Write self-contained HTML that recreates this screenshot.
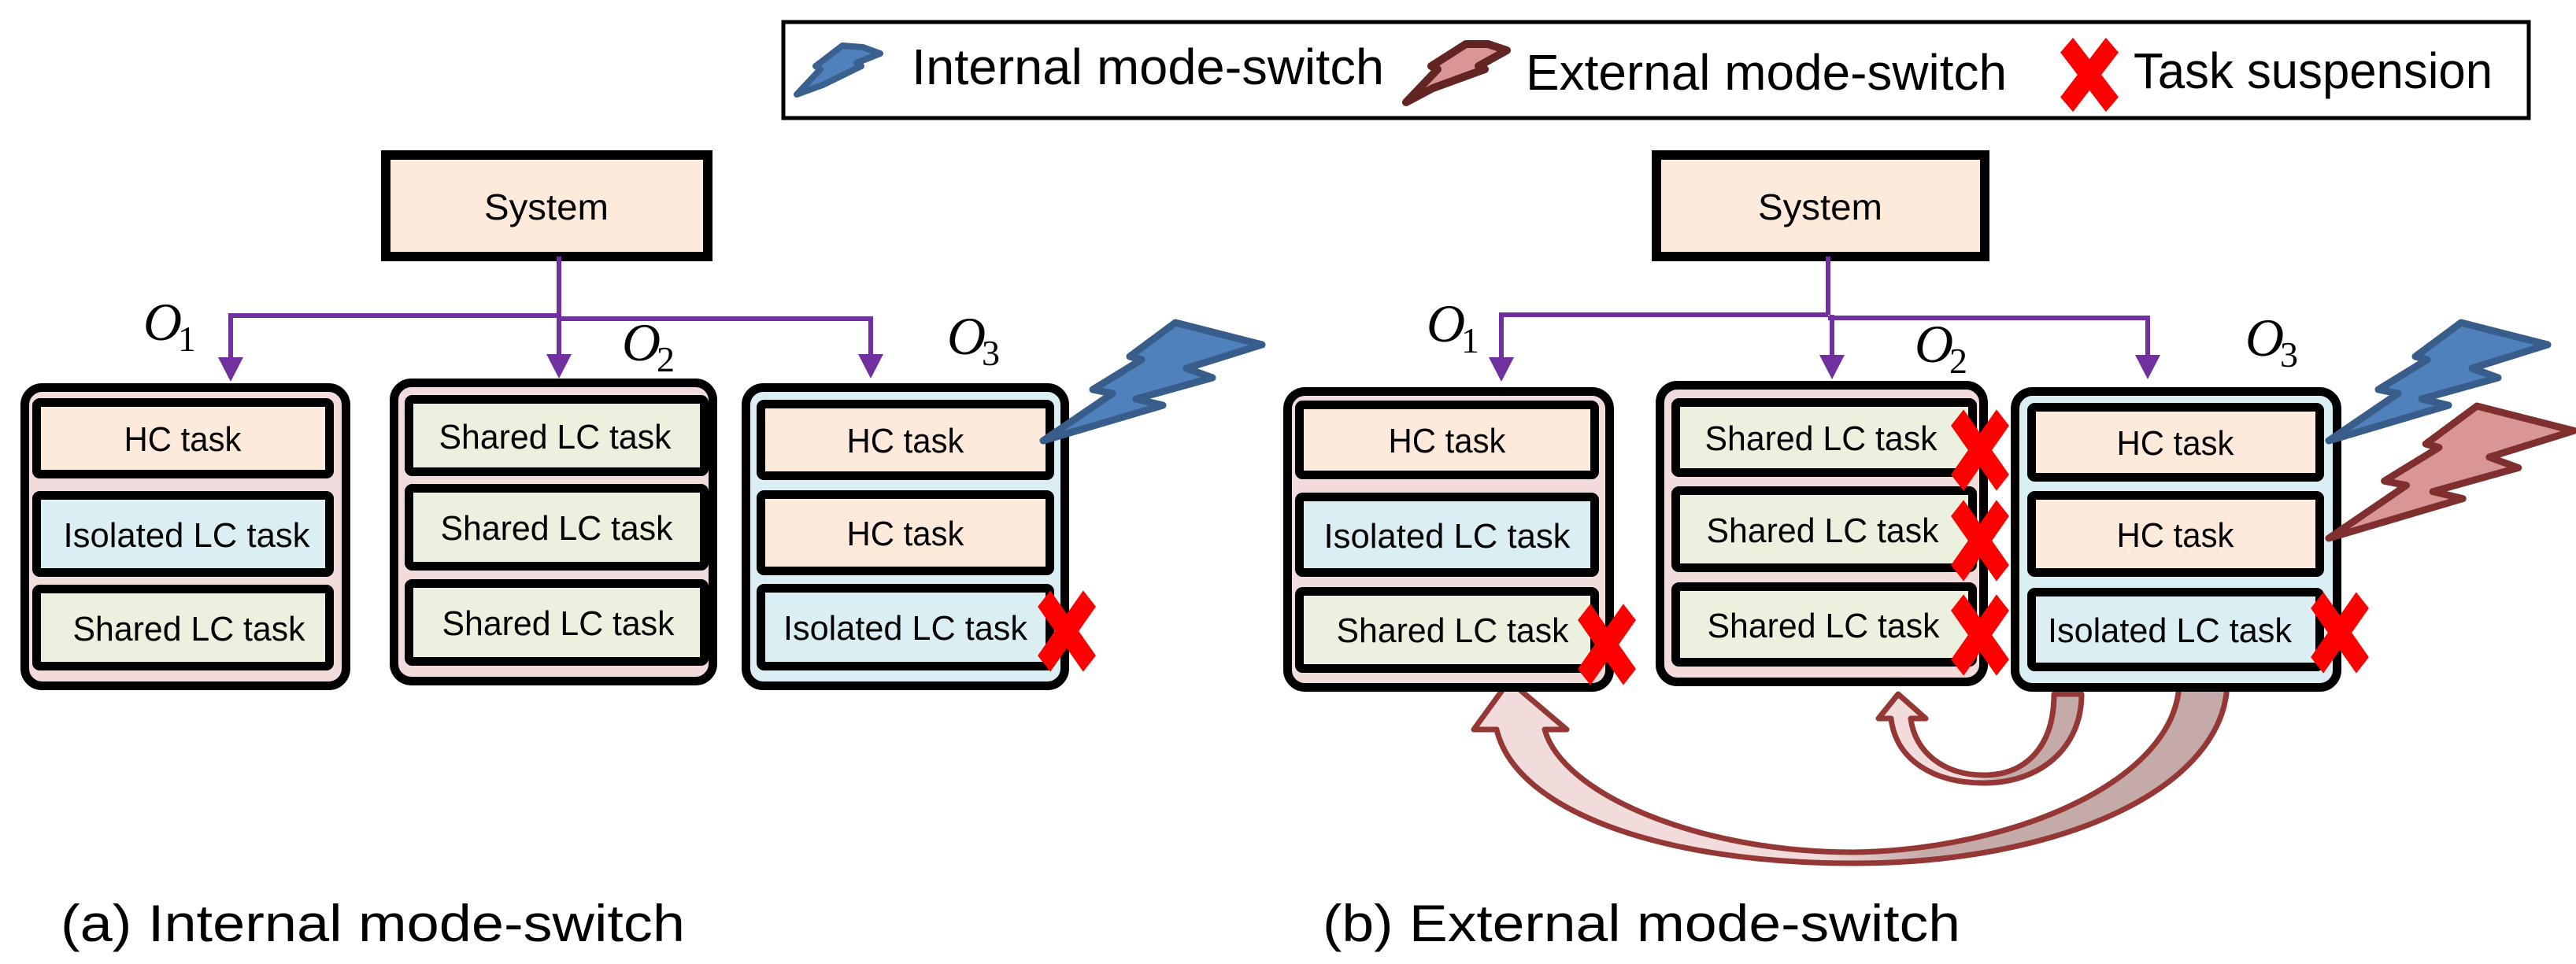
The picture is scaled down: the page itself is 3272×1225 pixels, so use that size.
<!DOCTYPE html>
<html><head><meta charset="utf-8"><style>
html,body{margin:0;padding:0;background:#fff}
svg{display:block}
text{font-family:"Liberation Sans",sans-serif;fill:#000}
.t{font-size:44px;text-anchor:middle}
.o{font-family:"Liberation Serif",serif;font-style:italic;font-size:68px}
.s{font-family:"Liberation Serif",serif;font-size:46px}
</style></head><body>
<svg width="3272" height="1225" viewBox="0 0 3272 1225" xmlns="http://www.w3.org/2000/svg">
<defs>
<linearGradient id="g1" x1="0" x2="1" y1="0" y2="0"><stop offset="0" stop-color="#f2dcdb"/><stop offset="0.45" stop-color="#f2dcdb"/><stop offset="0.6" stop-color="#c4aaa9"/><stop offset="1" stop-color="#c4aaa9"/></linearGradient>
<g id="x"><path d="M-34,-36 L34,36 M34,-36 L-34,36" stroke="#ff0000" stroke-width="26" fill="none"/></g>
<polygon id="bolt" points="1325,560 1413,500 1388,495 1450,457 1435,453 1493,410 1603,438 1507,468 1540,480 1443,507 1477,515"/>
</defs>

<!-- Legend -->
<rect x="995" y="28" width="2217" height="122" fill="#fff" stroke="#000" stroke-width="5"/>
<polygon points="1012,120 1042,88 1036,84 1070,58 1096,60 1118,68 1088,80 1094,84 1045,108" fill="#4f81bd" stroke="#3a6090" stroke-width="8" stroke-linejoin="round"/>
<text x="1158" y="107" font-size="64" textLength="600" lengthAdjust="spacingAndGlyphs">Internal mode-switch</text>
<polygon points="1786,130 1826,88 1818,84 1862,56 1890,56 1914,64 1878,84 1886,88 1820,112" fill="#d99694" stroke="#632523" stroke-width="10" stroke-linejoin="round"/>
<text x="1938" y="114" font-size="64" textLength="611" lengthAdjust="spacingAndGlyphs">External mode-switch</text>
<g transform="translate(2654,95) scale(0.85,1.05)"><use href="#x"/></g>
<text x="2710" y="112" font-size="64" textLength="456" lengthAdjust="spacingAndGlyphs">Task suspension</text>

<!-- ===== Left panel ===== -->
<rect x="490" y="197" width="409" height="129" fill="#fdeada" stroke="#000" stroke-width="12"/>
<text x="694" y="279" font-size="46" text-anchor="middle" textLength="158" lengthAdjust="spacingAndGlyphs">System</text>
<g stroke="#7030a0" stroke-width="6" fill="none">
<path d="M710,326 V452 M710,401 H293 V456 M710,405 H1106 V452"/>
</g>
<g fill="#7030a0">
<polygon points="277,454 309,454 293,485"/><polygon points="694,450 726,450 710,481"/><polygon points="1090,450 1122,450 1106,481"/>
</g>
<text class="o" x="182" y="432">O</text><text class="s" x="226" y="446">1</text>
<text class="o" x="790" y="458">O</text><text class="s" x="834" y="472">2</text>
<text class="o" x="1203" y="450">O</text><text class="s" x="1247" y="464">3</text>

<g stroke="#000" stroke-width="11">
<rect x="31.5" y="492.5" width="408" height="379" rx="22" fill="#f2dcdb"/>
<rect x="46.5" y="511.5" width="372" height="91" rx="4" fill="#fdeada"/>
<rect x="46.5" y="629.5" width="372" height="98" rx="4" fill="#dbeef3"/>
<rect x="46.5" y="748.5" width="372" height="98" rx="4" fill="#ebf1de"/>
<rect x="500.5" y="486.5" width="405" height="379" rx="22" fill="#f2dcdb"/>
<rect x="519.5" y="507.5" width="375" height="92" rx="4" fill="#ebf1de"/>
<rect x="519.5" y="620.5" width="375" height="99" rx="4" fill="#ebf1de"/>
<rect x="519.5" y="741.5" width="375" height="99" rx="4" fill="#ebf1de"/>
<rect x="947.5" y="492.5" width="405" height="379" rx="22" fill="#dbeef3"/>
<rect x="966.5" y="513.5" width="367" height="91" rx="4" fill="#fdeada"/>
<rect x="966.5" y="628.5" width="367" height="97" rx="4" fill="#fdeada"/>
<rect x="966.5" y="747.5" width="367" height="99" rx="4" fill="#dbeef3"/>
</g>
<text class="t" x="232" y="573" textLength="149" lengthAdjust="spacingAndGlyphs">HC task</text>
<text class="t" x="237" y="695" textLength="313" lengthAdjust="spacingAndGlyphs">Isolated LC task</text>
<text class="t" x="240" y="814" textLength="295" lengthAdjust="spacingAndGlyphs">Shared LC task</text>
<text class="t" x="705" y="570" textLength="295" lengthAdjust="spacingAndGlyphs">Shared LC task</text>
<text class="t" x="707" y="686" textLength="295" lengthAdjust="spacingAndGlyphs">Shared LC task</text>
<text class="t" x="709" y="807" textLength="295" lengthAdjust="spacingAndGlyphs">Shared LC task</text>
<text class="t" x="1150" y="575" textLength="149" lengthAdjust="spacingAndGlyphs">HC task</text>
<text class="t" x="1150" y="693" textLength="149" lengthAdjust="spacingAndGlyphs">HC task</text>
<text class="t" x="1150" y="813" textLength="310" lengthAdjust="spacingAndGlyphs">Isolated LC task</text>
<g transform="translate(1355,802) scale(0.85,1.15)"><use href="#x"/></g>
<use href="#bolt" fill="#4f81bd" stroke="#385d8a" stroke-width="9" stroke-linejoin="round"/>

<text x="77" y="1196" font-size="66" textLength="793" lengthAdjust="spacingAndGlyphs">(a) Internal mode-switch</text>

<!-- ===== Right panel ===== -->
<rect x="2104" y="197" width="417" height="129" fill="#fdeada" stroke="#000" stroke-width="12"/>
<text x="2312" y="279" font-size="46" text-anchor="middle" textLength="158" lengthAdjust="spacingAndGlyphs">System</text>
<g stroke="#7030a0" stroke-width="6" fill="none">
<path d="M2322,326 V400 M2322,400 H1907 V456 M2327,400 V452 M2322,404 H2728 V452"/>
</g>
<g fill="#7030a0">
<polygon points="1891,454 1923,454 1907,485"/><polygon points="2311,451 2343,451 2327,482"/><polygon points="2712,451 2744,451 2728,482"/>
</g>
<text class="o" x="1812" y="434">O</text><text class="s" x="1856" y="448">1</text>
<text class="o" x="2432" y="460">O</text><text class="s" x="2476" y="474">2</text>
<text class="o" x="2852" y="452">O</text><text class="s" x="2896" y="466">3</text>

<path d="M2768,865 C2768,990 2560,1080 2354,1083 C2160,1083 1985,1010 1962,927 L1990,927 L1917,865 L1872,927 L1901,927 C1925,1030 2110,1097 2354,1097 C2620,1097 2829,1000 2829,865 Z" fill="url(#g1)" stroke="#953735" stroke-width="7" stroke-linejoin="round"/>
<path d="M2609,882 C2609,950 2572,985 2520,985 C2468,985 2432,955 2427,913 L2446,913 L2411,882 L2386,913 L2402,913 C2408,965 2455,995 2520,995 C2592,995 2644,950 2644,882 Z" fill="url(#g1)" stroke="#953735" stroke-width="7" stroke-linejoin="round"/>

<g stroke="#000" stroke-width="11">
<rect x="1635.5" y="497.5" width="409" height="376" rx="22" fill="#f2dcdb"/>
<rect x="1650.5" y="514.5" width="375" height="89" rx="4" fill="#fdeada"/>
<rect x="1650.5" y="631.5" width="375" height="96" rx="4" fill="#dbeef3"/>
<rect x="1650.5" y="751.5" width="375" height="98" rx="4" fill="#ebf1de"/>
<rect x="2108.5" y="489.5" width="411" height="377" rx="22" fill="#f2dcdb"/>
<rect x="2128.5" y="511.5" width="377" height="89" rx="4" fill="#ebf1de"/>
<rect x="2128.5" y="623.5" width="377" height="98" rx="4" fill="#ebf1de"/>
<rect x="2128.5" y="745.5" width="377" height="96" rx="4" fill="#ebf1de"/>
<rect x="2559.5" y="497.5" width="409" height="376" rx="22" fill="#dbeef3"/>
<rect x="2580.5" y="517.5" width="366" height="89" rx="4" fill="#fdeada"/>
<rect x="2580.5" y="629.5" width="366" height="98" rx="4" fill="#fdeada"/>
<rect x="2580.5" y="752.5" width="366" height="95" rx="4" fill="#dbeef3"/>
</g>
<text class="t" x="1838" y="575" textLength="149" lengthAdjust="spacingAndGlyphs">HC task</text>
<text class="t" x="1838" y="696" textLength="313" lengthAdjust="spacingAndGlyphs">Isolated LC task</text>
<text class="t" x="1845" y="816" textLength="295" lengthAdjust="spacingAndGlyphs">Shared LC task</text>
<text class="t" x="2313" y="572" textLength="295" lengthAdjust="spacingAndGlyphs">Shared LC task</text>
<text class="t" x="2315" y="689" textLength="295" lengthAdjust="spacingAndGlyphs">Shared LC task</text>
<text class="t" x="2316" y="810" textLength="295" lengthAdjust="spacingAndGlyphs">Shared LC task</text>
<text class="t" x="2763" y="578" textLength="149" lengthAdjust="spacingAndGlyphs">HC task</text>
<text class="t" x="2763" y="695" textLength="149" lengthAdjust="spacingAndGlyphs">HC task</text>
<text class="t" x="2756" y="816" textLength="310" lengthAdjust="spacingAndGlyphs">Isolated LC task</text>
<g transform="translate(2041,819) scale(0.85,1.15)"><use href="#x"/></g>
<g transform="translate(2515,572) scale(0.85,1.15)"><use href="#x"/></g>
<g transform="translate(2515,687) scale(0.85,1.15)"><use href="#x"/></g>
<g transform="translate(2515,807) scale(0.85,1.15)"><use href="#x"/></g>
<g transform="translate(2972,804) scale(0.85,1.15)"><use href="#x"/></g>
<use href="#bolt" transform="translate(1633,0)" fill="#4f81bd" stroke="#385d8a" stroke-width="9" stroke-linejoin="round"/>
<g transform="translate(2958,684) scale(1.12) translate(-1325,-560)">
<use href="#bolt" fill="#d99694" stroke="#7f2f2d" stroke-width="8" stroke-linejoin="round"/>
</g>

<text x="1680" y="1196" font-size="66" textLength="810" lengthAdjust="spacingAndGlyphs">(b) External mode-switch</text>
</svg>
</body></html>
